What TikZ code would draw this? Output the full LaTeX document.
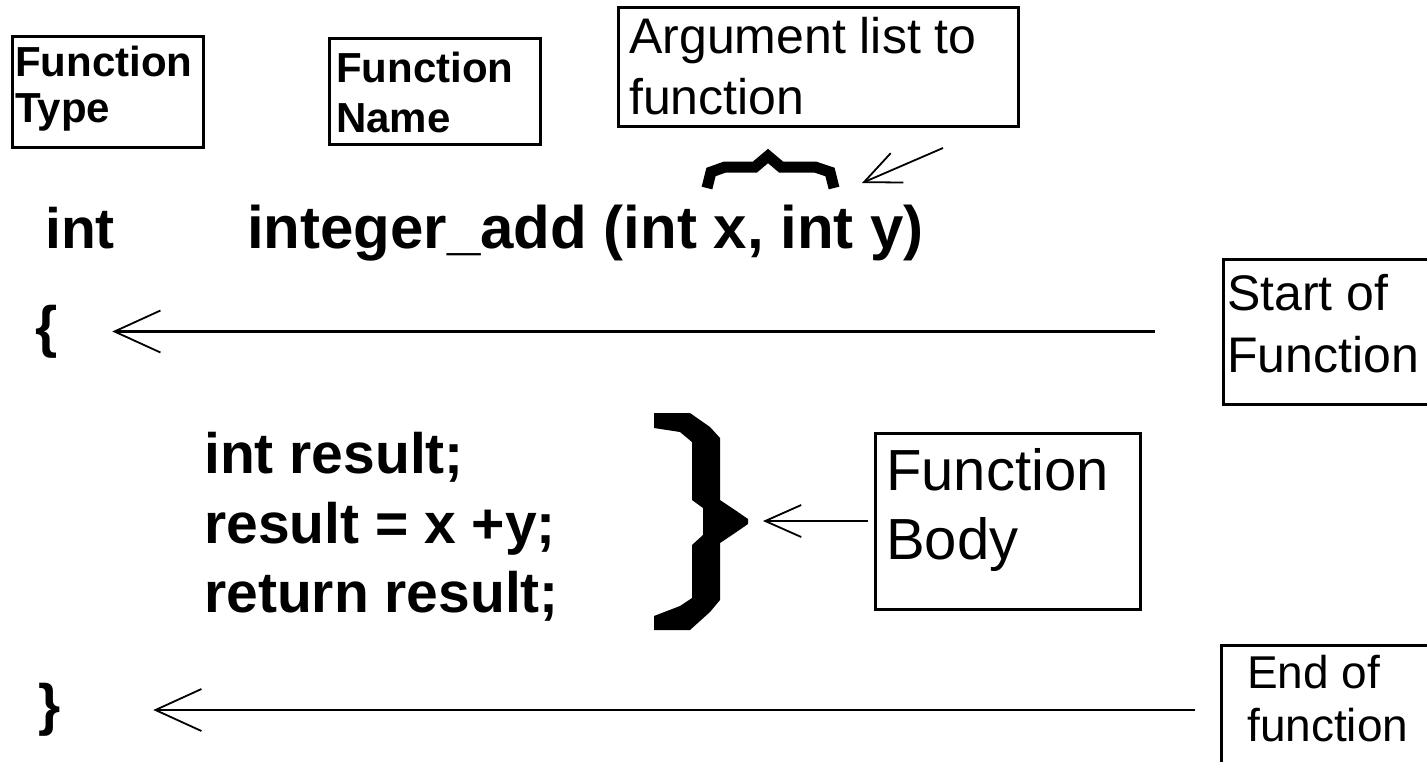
\documentclass[tikz,border=0pt]{standalone}
\usepackage{fontspec}
\setmainfont{Liberation Sans}
\usetikzlibrary{arrows.meta}
\begin{document}
\begin{tikzpicture}[x=1pt,y=-1pt,
  frame/.style={draw, line width=3pt, inner sep=0pt, outer sep=0pt, anchor=north west},
  lbl/.style={anchor=base west, inner sep=0pt, font=\fontsize{#1}{#1}\selectfont},
  blbl/.style={anchor=base west, inner sep=0pt, font=\fontsize{#1}{#1}\selectfont\bfseries},
  code/.style={anchor=base west, inner sep=0pt, font=\fontsize{57}{57}\selectfont\bfseries},
  brc/.style={inner sep=0pt, font=\fontsize{57}{57}\selectfont\bfseries},
  conn/.style={line width=2.6pt},
  bigtip/.style={-{Straight Barb[length=46pt,width=42pt,line width=1.8pt]}},
  smalltip/.style={-{Straight Barb[length=36pt,width=32pt,line width=1.8pt]}}]
\useasboundingbox (0,0) rectangle (1427,761);
\clip (0,0) rectangle (1427,761);

% label boxes
\node[frame, minimum width=191pt, minimum height=111pt] (ftbox) at (12,36) {};
\node[blbl=42] (ft1) at (15,76) {Function};
\node[blbl=42] (ft2) at (15,122) {Type};

\node[frame, minimum width=211pt, minimum height=106pt] (fnbox) at (329,38) {};
\node[blbl=42] (fn1) at (336,82) {Function};
\node[blbl=42] (fn2) at (336,132) {Name};

\node[frame, minimum width=400pt, minimum height=119pt] (argbox) at (618,7) {};
\node[lbl=50] (arg1) at (629,53) {Argument list to};
\node[lbl=50] (arg2) at (629,114) {function};

\node[frame, minimum width=220pt, minimum height=145pt] (sofbox) at (1223,259) {};
\node[lbl=50] (sof1) at (1227,310) {Start of};
\node[lbl=50] (sof2) at (1227,372) {Function};

\node[frame, minimum width=265pt, minimum height=176pt] (bodybox) at (875,433) {};
\node[lbl=58] (body1) at (886,490) {Function};
\node[lbl=58] (body2) at (886,559) {Body};

\node[frame, minimum width=220pt, minimum height=130pt] (eofbox) at (1221,645) {};
\node[lbl=46] (eof1) at (1247,688) {End of};
\node[lbl=46] (eof2) at (1247,741) {function};

% the function source
\node[code] (rtype) at (45,248) {int};
\node[anchor=base west, inner sep=0pt, font=\fontsize{60}{60}\selectfont\bfseries] (sig) at (247,248) {integer\_add (int x, int y)};
\node[brc] (lbrace) at (47,332) {\{};
\node[code] (l1) at (204,473) {int result;};
\node[code] (l2) at (204,543) {result = x +y;};
\node[code] (l3) at (204,612) {return result;};
\node[brc] (rbrace) at (50,710) {\}};

% brace over the argument list
\draw[line width=11pt, line join=miter, line cap=butt]
  (707,188) -- (711,172) -- (725,167) -- (755,167) -- (768,156)
  -- (781,167) -- (815,167) -- (830,172) -- (834,188);

% large brace grouping the body
\fill (654,413) -- (690,413) -- (710,427) -- (720,438) -- (720,500)
  -- (735,510) -- (748,519) -- (748,524) -- (735,533) -- (720,543)
  -- (720,600) -- (710,612) -- (690,630) -- (654,630) -- (654,616)
  -- (680,606) -- (692,598) -- (692,545) -- (703,535) -- (703,508)
  -- (692,500) -- (692,442) -- (680,432) -- (654,428) -- cycle;
\coordinate (bodytip) at (748,521);

% connectors
\coordinate (argtail) at (943,148);
\coordinate (argtip) at (862,183);
\draw[conn, smalltip, line width=1.8pt] (argtail) -- (argtip);

\draw[conn, bigtip, shorten <=68pt, shorten >=54pt]
  (sofbox.west) -- (lbrace.east |- sofbox.west);
\draw[conn, smalltip, shorten <=7pt, shorten >=15pt]
  (bodybox.west) -- (bodytip);
\draw[conn, bigtip, shorten <=26pt, shorten >=92pt]
  (eofbox.west |- rbrace.east) -- (rbrace.east);
\end{tikzpicture}
\end{document}
